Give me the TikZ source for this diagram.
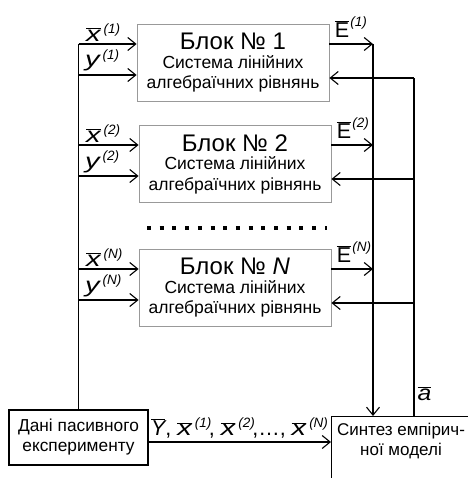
\documentclass[tikz,border=0pt]{standalone}
\usepackage{graphicx}
\usepackage{fontspec}
\setmainfont{Liberation Sans}
\usetikzlibrary{arrows.meta,calc}

\newcommand{\supidx}[1]{\mbox{\fontsize{13.5}{13.5}\selectfont\itshape(#1)}}
\newcommand{\wideit}[1]{\scalebox{1.35}[1]{\itshape #1}}
\newcommand{\barvar}[2]{$\overline{\mbox{\wideit{#1}}}^{\hspace{3pt}\supidx{#2}}$}
\newcommand{\barE}[1]{$\overline{\mbox{E}}^{\hspace{1pt}\supidx{#1}}$}
\newcommand{\plainvar}[2]{\mbox{\wideit{#1}}$^{\hspace{3pt}\supidx{#2}}$}
\newcommand{\blocktext}[1]{{\fontsize{24}{24}\selectfont Блок № #1}\\[-2pt]Система лінійних\\алгебраїчних рівнянь}

\begin{document}
\begin{tikzpicture}[x=1pt,y=-1pt,font=\fontsize{21.5}{21.5}\selectfont,
    block/.style={draw=black!40,line width=0.8pt,minimum width=192pt,minimum height=77pt,
      align=center,inner sep=0pt,font=\fontsize{17.5}{20.5}\selectfont},
    lin/.style={line width=1.1pt},
    arr/.style={line width=1.1pt,-{Straight Barb[length=8pt,width=13pt,line width=1.1pt]}},
    lbl/.style={inner sep=0pt}]
  \useasboundingbox (0,0) rectangle (467,478);

  % blocks
  \node[block] (b1) at (233,63) {\blocktext{1}};
  \node[block] (b2) at (235,164) {\blocktext{2}};
  \node[block] (bN) at (235,288) {\blocktext{\textit{N}}};
  \draw[line width=4pt,dash pattern=on 4pt off 8.7pt] (147,228) -- (327,228);

  % input data and synthesis
  \node[draw,lin,minimum width=139pt,minimum height=55pt,align=center,
    font=\fontsize{17.3}{20}\selectfont] (data) at (78.5,437.5) {Дані пасивного\\експерименту};
  \node[draw,lin,minimum width=140pt,minimum height=80pt,anchor=north west] (synth) at (331,416) {};
  \node[anchor=north,align=center,inner sep=0pt,font=\fontsize{17}{20}\selectfont]
    (synthtxt) at (401,423) {Синтез емпірич-\\ної моделі};

  \coordinate (ebus) at (373,0);
  \coordinate (abus) at (414,0);

  \foreach \b/\k in {b1/1,b2/2,bN/N}{
    \coordinate (\b-in1) at ($(\b.west)+(0,-19)$);
    \coordinate (\b-in2) at ($(\b.west)+(0,12)$);
    \coordinate (\b-out) at ($(\b.east)+(0,-19)$);
    \coordinate (\b-back) at ($(\b.east)+(0,15)$);
    \draw[arr] (data.north |- \b-in1) -- (\b-in1)
      node[lbl,pos=0,anchor=south west,xshift=7pt,yshift=2pt] {\barvar{x}{\k}};
    \draw[arr] (data.north |- \b-in2) -- (\b-in2)
      node[lbl,pos=0,anchor=base west,xshift=6pt,yshift=8pt] {\plainvar{y}{\k}};
    \draw[arr] (\b-out) -- (ebus |- \b-out)
      node[lbl,pos=0,anchor=south west,xshift=5pt,yshift=6pt] {\barE{\k}};
    \draw[arr] (abus |- \b-back) -- (\b-back);
  }

  % buses
  \draw[lin] (data.north) -- (data.north |- b1-in1);
  \draw[arr] (ebus |- b1-out) -- (ebus |- synth.north);
  \draw[lin] (abus |- synth.north)
    node[lbl,anchor=south west,xshift=3pt,yshift=15pt] {$\overline{\mbox{\scalebox{1.15}[1]{\itshape a}}}$}
    -- (abus |- b1-back);

  % data to synthesis
  \coordinate (yrow) at ($(data.east)+(0,4.5)$);
  \draw[arr] (yrow) -- (synth.west |- yrow)
    node[lbl,midway,anchor=south,yshift=3pt]
    {$\overline{\mbox{\itshape Y}}$, \barvar{x}{1}\hspace{-3pt}, \barvar{x}{2}\hspace{-3pt},\dots, \barvar{x}{N}};
\end{tikzpicture}
\end{document}
